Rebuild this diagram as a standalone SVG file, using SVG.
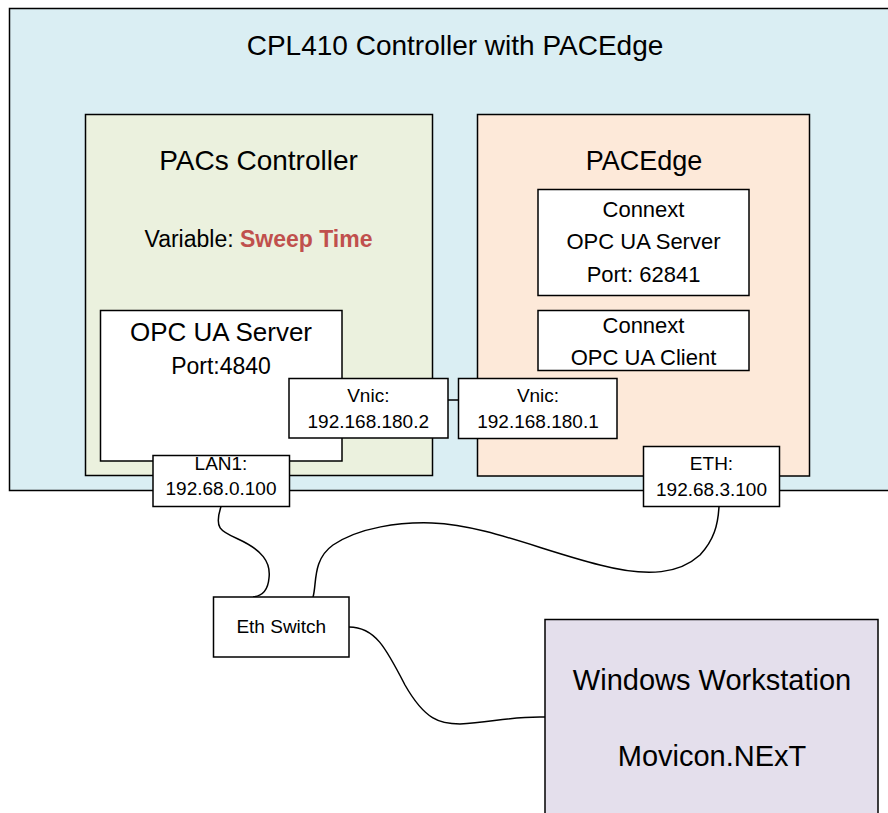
<svg xmlns="http://www.w3.org/2000/svg" width="888" height="813" viewBox="0 0 888 813">
<style>
  .box { stroke: #000; stroke-width: 1.5; }
  .w { fill: #ffffff; }
  .t { font-family: "Liberation Sans", Arial, sans-serif; fill: #000; text-anchor: middle; }
  .wire { fill: none; stroke: #000; stroke-width: 1.5; }
</style>
<rect width="888" height="813" fill="#ffffff"/>

<g id="cpl410">
  <rect class="box" x="9.5" y="8.5" width="900" height="482" fill="#DAEEF3"/>
  <text class="t" x="455" y="55" font-size="28">CPL410 Controller with PACEdge</text>
</g>

<g id="pacs-controller">
  <rect class="box" x="85.5" y="114.5" width="347" height="361" fill="#EBF1DE"/>
  <text class="t" x="258.5" y="170" font-size="28">PACs Controller</text>
  <text class="t" x="258.5" y="246.7" font-size="23">Variable: <tspan fill="#C0504D" font-weight="bold">Sweep Time</tspan></text>
</g>

<g id="pacedge">
  <rect class="box" x="477.5" y="114.5" width="332" height="361.5" fill="#FDE9D9"/>
  <text class="t" x="644" y="170" font-size="27">PACEdge</text>
</g>

<g id="connext-server">
  <rect class="box w" x="538" y="189.5" width="211" height="106"/>
  <text class="t" x="643.5" y="217.3" font-size="22">Connext</text>
  <text class="t" x="643.5" y="249.3" font-size="22">OPC UA Server</text>
  <text class="t" x="643.5" y="281.7" font-size="22">Port: 62841</text>
</g>

<g id="connext-client">
  <rect class="box w" x="538" y="310.5" width="211" height="60"/>
  <text class="t" x="643.5" y="332.7" font-size="22">Connext</text>
  <text class="t" x="643.5" y="365" font-size="22">OPC UA Client</text>
</g>

<g id="opcua-server">
  <rect class="box w" x="100.5" y="310.5" width="241.5" height="150.5"/>
  <text class="t" x="221" y="340.7" font-size="26">OPC UA Server</text>
  <text class="t" x="221" y="374" font-size="23">Port:4840</text>
</g>

<g id="connectors">
  <line class="wire" x1="448" y1="400" x2="458.5" y2="400"/>
  <path class="wire" d="M221,506.5 C214,528 220,531 238,539 C262,550 271,562 269,578 C268,590 263,596 253,597"/>
  <path class="wire" d="M313,597 C317,584 312,560 333,545 C360,527 400,522 432,523 C485,525 540,550 600,565 C650,578 680,573 700,555 C714,540 718,525 719,506.5"/>
  <path class="wire" d="M349,627 C375,627 386,648 405,685 C425,720 440,724 460,724 C490,723 510,716 545,717"/>
</g>

<g id="vnic-2">
  <rect class="box w" x="289" y="378.5" width="159" height="59.5"/>
  <text class="t" x="368.3" y="401.7" font-size="19">Vnic:</text>
  <text class="t" x="368.3" y="428.3" font-size="19">192.168.180.2</text>
</g>

<g id="vnic-1">
  <rect class="box w" x="458.5" y="378.5" width="158.5" height="60"/>
  <text class="t" x="538" y="401.7" font-size="19">Vnic:</text>
  <text class="t" x="538" y="427.7" font-size="19">192.168.180.1</text>
</g>

<g id="lan1">
  <rect class="box w" x="153" y="455.5" width="136.5" height="51"/>
  <text class="t" x="221" y="470" font-size="19">LAN1:</text>
  <text class="t" x="221" y="495" font-size="19">192.68.0.100</text>
</g>

<g id="eth">
  <rect class="box w" x="643.5" y="446.5" width="136" height="60"/>
  <text class="t" x="711.5" y="470" font-size="19">ETH:</text>
  <text class="t" x="711.5" y="496" font-size="19">192.68.3.100</text>
</g>

<g id="eth-switch">
  <rect class="box w" x="213.5" y="597" width="135.5" height="60"/>
  <text class="t" x="281.3" y="633.3" font-size="19">Eth Switch</text>
</g>

<g id="windows-workstation">
  <rect class="box" x="545" y="619.5" width="333" height="200" fill="#E4DFEC"/>
  <text class="t" x="712" y="690" font-size="29">Windows Workstation</text>
  <text class="t" x="712" y="766" font-size="29">Movicon.NExT</text>
</g>
</svg>
